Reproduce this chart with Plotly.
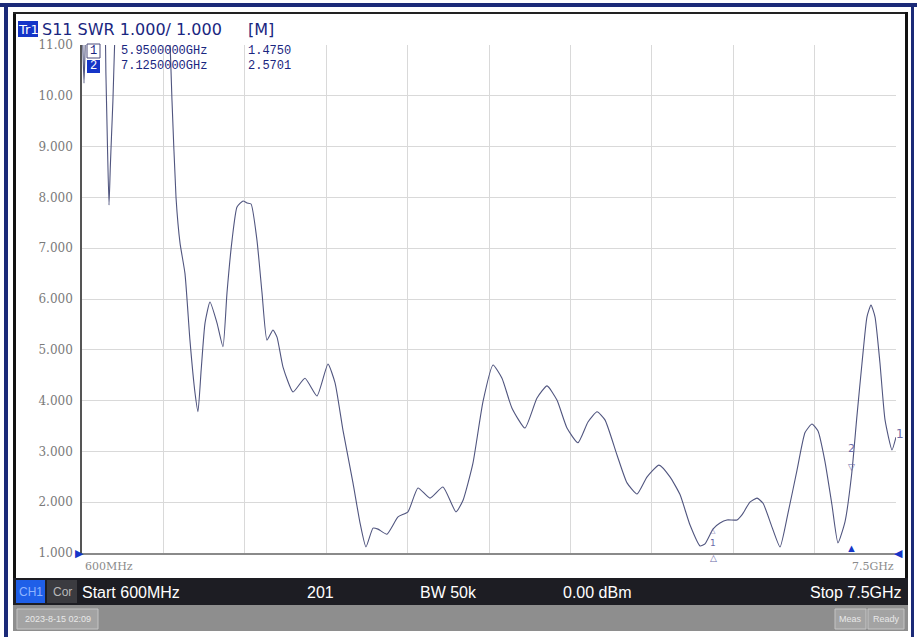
import plotly.graph_objects as go

# ---------------- data ----------------
freq_ghz = [0.600, 0.608, 0.617, 0.626, 0.634, 0.700, 0.790, 0.803, 0.816, 0.829,
            0.840, 0.850, 0.862, 0.875, 0.888, 1.000, 1.200, 1.320, 1.346, 1.363,
            1.397, 1.431, 1.473, 1.515, 1.558, 1.583, 1.610, 1.643, 1.685, 1.744,
            1.795, 1.829, 1.872, 1.914, 1.965, 1.999, 2.033, 2.083, 2.126, 2.168,
            2.219, 2.253, 2.304, 2.389, 2.490, 2.592, 2.685, 2.745, 2.812, 2.897,
            2.957, 3.007, 3.067, 3.109, 3.185, 3.279, 3.363, 3.448, 3.550, 3.660,
            3.770, 3.830, 3.914, 3.999, 4.084, 4.160, 4.245, 4.355, 4.457, 4.542,
            4.626, 4.711, 4.804, 4.889, 4.966, 5.033, 5.135, 5.220, 5.305, 5.390,
            5.491, 5.584, 5.669, 5.754, 5.839, 5.881, 5.950, 6.008, 6.067, 6.152,
            6.194, 6.262, 6.322, 6.373, 6.449, 6.517, 6.585, 6.661, 6.729, 6.788,
            6.839, 6.898, 6.957, 7.008, 7.068, 7.125, 7.169, 7.212, 7.254, 7.288,
            7.322, 7.364, 7.407, 7.466, 7.500]
swr = [11.6, 10.9, 10.25, 10.9, 11.6, 12.5, 11.6, 10.4, 9.0, 7.85,
       8.6, 9.2, 9.9, 10.9, 11.6, 13.0, 13.0, 11.6, 11.0, 9.9,
       8.0, 7.1, 6.5, 5.19, 4.15, 3.78, 4.6, 5.53, 5.94, 5.53,
       5.06, 6.12, 7.16, 7.81, 7.93, 7.89, 7.87, 7.16, 6.12, 5.19,
       5.39, 5.25, 4.66, 4.17, 4.44, 4.09, 4.72, 4.35, 3.42, 2.38,
       1.59, 1.12, 1.49, 1.47, 1.37, 1.71, 1.81, 2.28, 2.08, 2.30,
       1.81, 2.04, 2.77, 3.98, 4.70, 4.44, 3.85, 3.46, 4.05, 4.29,
       4.01, 3.46, 3.17, 3.58, 3.78, 3.62, 2.93, 2.38, 2.16, 2.50,
       2.73, 2.50, 2.15, 1.55, 1.14, 1.18, 1.475, 1.59, 1.65, 1.65,
       1.75, 2.00, 2.08, 1.98, 1.51, 1.12, 1.79, 2.63, 3.37, 3.54,
       3.40, 2.80, 1.95, 1.20, 1.62, 2.5701, 3.70, 4.74, 5.65, 5.88,
       5.65, 4.74, 3.62, 3.03, 3.28]

y_ticks = [1, 2, 3, 4, 5, 6, 7, 8, 9, 10, 11]
y_tick_labels = ["1.000", "2.000", "3.000", "4.000", "5.000", "6.000",
                 "7.000", "8.000", "9.000", "10.00", "11.00"]
x_grid = [0.6 + 0.69 * k for k in range(11)]

marker_ids = ["1", "2"]
marker_freq = [5.95, 7.125]
marker_swr = [1.475, 2.5701]
marker_freq_text = ["5.9500000GHz", "7.1250000GHz"]
marker_val_text = ["1.4750", "2.5701"]

W, H = 917, 637
L, R, T, B = 82, 896, 45, 553


def px(x):
    return (x - L) / (R - L)


def py(y):
    return (B - y) / (B - T)


NAVY = "#1a2680"
TRACE = "#50557f"
MK = "#6a6aa8"

fig = go.Figure()
fig.add_trace(go.Scatter(x=freq_ghz, y=swr, mode="lines",
                         line=dict(color=TRACE, width=1.1, shape="spline",
                                   smoothing=0.5),
                         hoverinfo="skip", showlegend=False))

shapes = []
annotations = []


def rect(x0, y0, x1, y1, fill, line=None, layer="above"):
    shapes.append(dict(type="rect", xref="paper", yref="paper",
                       x0=px(x0), x1=px(x1), y0=py(y0), y1=py(y1),
                       fillcolor=fill, line=dict(width=0 if line is None else 1,
                                                 color=line or fill),
                       layer=layer))


def text(x, y, s, size=12, color="#000", family="Liberation Sans",
         xanchor="left", yanchor="middle", **kw):
    annotations.append(dict(xref="paper", yref="paper", x=px(x), y=py(y),
                            text=s, showarrow=False, xanchor=xanchor,
                            yanchor=yanchor,
                            font=dict(size=size, color=color, family=family),
                            **kw))


# ---- frame ----
rect(0, 3, 917, 7, "#1b2a78")           # top navy band
rect(4, 3, 8, 637, "#1b2a78")           # left navy band
rect(911, 3, 914, 637, "#1b2a78")       # right navy band
rect(13, 12, 16, 580, "#111111")        # left black edge
rect(13, 12, 908, 14, "#222222")        # top black edge
rect(905, 12, 908, 580, "#111111")      # right black edge

# bottom bars
rect(13, 578, 908, 605, "#1d1d23")
rect(13, 605, 908, 631, "#8e8e8e")
rect(16, 580, 45, 603, "#1f5fe8")
rect(47, 580, 77, 603, "#3b3b40")
rect(17, 609, 98, 629, "#a3a3a3", line="#c4c4c4")
rect(835, 609, 866, 629, "#a3a3a3", line="#c4c4c4")
rect(868, 609, 904, 629, "#a3a3a3", line="#c4c4c4")

text(30.5, 592, "CH1", size=12, color="#8fb4ff", xanchor="center")
text(62, 592, "Cor", size=12, color="#b8b8b8", xanchor="center")
text(80, 592, "Start 600MHz", size=16, color="#ffffff")
text(320, 592, "201", size=16, color="#ffffff", xanchor="center")
text(418, 592, "BW 50k", size=16, color="#ffffff")
text(561, 592, "0.00 dBm", size=16, color="#ffffff")
text(904, 592, "Stop 7.5GHz", size=16, color="#ffffff", xanchor="right")
text(57.5, 619, "2023-8-15 02:09", size=9, color="#e8e8e8", xanchor="center")
text(850.5, 619, "Meas", size=9, color="#e8e8e8", xanchor="center")
text(886, 619, "Ready", size=9, color="#e8e8e8", xanchor="center")

# header
rect(18, 21, 38, 37, "#1535c8")
text(28, 29, "Tr1", size=13, color="#ffffff", xanchor="center",
     family="DejaVu Sans")
text(40, 29, "S11 SWR 1.000/ 1.000", size=16, color=NAVY,
     family="DejaVu Sans")
text(246, 29, "[M]", size=16, color=NAVY, family="DejaVu Sans")

# marker table
rect(87, 44, 100, 58, "rgba(255,255,255,0)", line="#4a4a7a")
rect(87, 60, 100, 73, "#1535c8")
for i, (mid, ft, vt) in enumerate(zip(marker_ids, marker_freq_text,
                                      marker_val_text)):
    yy = 51 + 15 * i
    text(93.5, yy, mid, size=12, color=NAVY if i == 0 else "#ffffff",
         xanchor="center", family="Liberation Mono")
    text(119, yy, ft, size=12, color=NAVY, family="Liberation Mono")
    text(246, yy, vt, size=12, color=NAVY, family="Liberation Mono")

# axis end labels
text(83, 566, "600MHz", size=11, color="#8a8a8a", family="DejaVu Serif")
text(896, 566, "7.5GHz", size=11, color="#8a8a8a", family="DejaVu Serif",
     xanchor="right")

# left/right reference triangles and right-edge label
text(79, 553, "▶", size=11, color="#1535c8", xanchor="center")
text(898, 553, "◀", size=11, color="#1535c8", xanchor="center")
text(900, 434, "1", size=12, color=MK, xanchor="center",
     family="DejaVu Sans")

# markers on the trace
for mid, f, s in zip(marker_ids, marker_freq, marker_swr):
    if mid == "1":
        annotations.append(dict(x=f, y=s, xref="x", yref="y", text="△",
                                showarrow=False, yshift=-2, borderpad=0,
                                font=dict(size=7, color=MK,
                                          family="DejaVu Sans")))
        annotations.append(dict(x=f, y=s, xref="x", yref="y", text="1",
                                showarrow=False, yshift=-14, borderpad=0,
                                font=dict(size=9, color=MK,
                                          family="DejaVu Sans")))
        annotations.append(dict(x=f, y=0, xref="x", yref="paper", text="△",
                                showarrow=False, yshift=-11, borderpad=0,
                                font=dict(size=9, color=MK,
                                          family="DejaVu Sans")))
    else:
        annotations.append(dict(x=f, y=s, xref="x", yref="y", text="▽",
                                showarrow=False, yshift=7,
                                font=dict(size=9, color=MK)))
        annotations.append(dict(x=f, y=s, xref="x", yref="y", text="2",
                                showarrow=False, yshift=25,
                                font=dict(size=11, color=MK,
                                          family="DejaVu Sans")))
        annotations.append(dict(x=f, y=0, xref="x", yref="paper", text="▲",
                                showarrow=False, yshift=-4,
                                font=dict(size=11, color="#1535c8")))

fig.update_layout(
    width=W, height=H,
    margin=dict(l=L, r=W - R, t=T, b=H - B, pad=0),
    paper_bgcolor="#ffffff", plot_bgcolor="#ffffff",
    showlegend=False,
    shapes=shapes, annotations=annotations,
    xaxis=dict(range=[0.6, 7.5], tickvals=x_grid, showticklabels=False,
               ticks="", showgrid=True, gridcolor="#d9d9d9", gridwidth=1,
               zeroline=False, showline=True, linecolor="#8a8a8a",
               linewidth=2, mirror=False, fixedrange=True),
    yaxis=dict(range=[1, 11], tickvals=y_ticks, ticktext=y_tick_labels,
               ticks="", showgrid=True, gridcolor="#d9d9d9", gridwidth=1,
               zeroline=False, showline=True, linecolor="#555555",
               linewidth=1.5, ticklabelstandoff=5,
               tickfont=dict(family="DejaVu Serif", size=12, color="#7a7a7a"),
               fixedrange=True),
)

fig.write_html("out.html", config={"displayModeBar": False},
               post_script="document.body.style.margin='0';"
                           "document.body.style.overflow='hidden';")
